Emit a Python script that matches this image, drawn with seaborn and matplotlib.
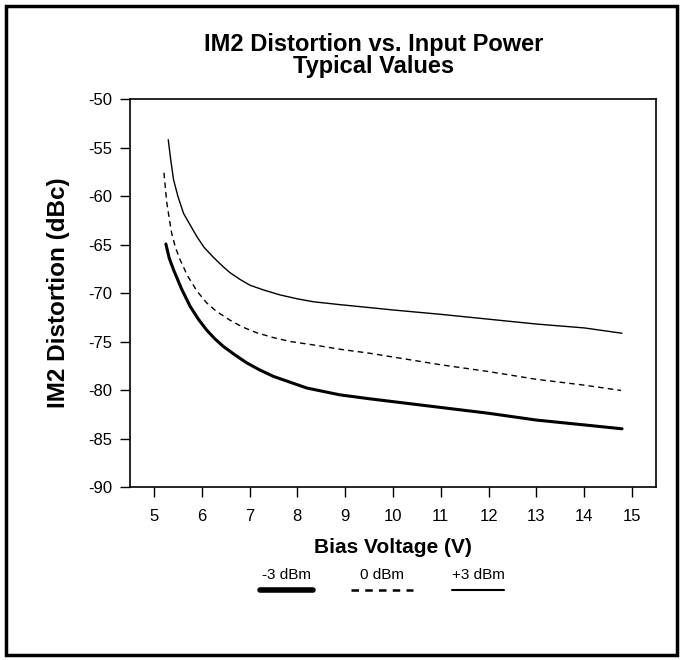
import matplotlib
matplotlib.use("Agg")
import matplotlib.pyplot as plt
import pandas as pd
import seaborn as sns
from matplotlib.lines import Line2D
from matplotlib.patches import Rectangle

# bias voltage (V) and IM2 distortion (dBc)
bias_m3 = [5.25, 5.32, 5.41, 5.58, 5.76, 5.93, 6.10, 6.27, 6.45, 6.7, 6.94, 7.2,
           7.5, 7.85, 8.2, 8.89, 9.5, 10.0, 11.0, 12.0, 13.0, 14.0, 14.79]
im2_m3 = [-64.95, -66.4, -67.6, -69.6, -71.4, -72.7, -73.8, -74.7, -75.5, -76.4,
          -77.2, -77.9, -78.6, -79.2, -79.8, -80.5, -80.9, -81.2, -81.8, -82.4,
          -83.1, -83.6, -84.0]

bias_0 = [5.21, 5.24, 5.27, 5.32, 5.37, 5.45, 5.55, 5.70, 5.90, 6.10, 6.31, 6.59,
          6.85, 7.15, 7.5, 7.85, 8.4, 8.89, 9.5, 10.0, 11.0, 12.0, 13.0, 14.0, 14.77]
im2_0 = [-57.6, -59.2, -60.7, -62.3, -63.8, -65.3, -66.6, -68.2, -69.8, -71.0,
         -71.9, -72.8, -73.5, -74.1, -74.6, -75.0, -75.4, -75.8, -76.2, -76.6,
         -77.4, -78.1, -78.9, -79.5, -80.05]

bias_p3 = [5.30, 5.35, 5.41, 5.50, 5.62, 5.76, 5.90, 6.05, 6.24, 6.45, 6.59, 6.80,
           7.01, 7.3, 7.64, 8.0, 8.33, 8.89, 9.5, 10.0, 11.0, 12.0, 13.0, 14.0, 14.79]
im2_p3 = [-54.2, -56.2, -58.3, -60.0, -61.8, -63.0, -64.2, -65.3, -66.3, -67.3,
          -67.9, -68.6, -69.2, -69.7, -70.2, -70.6, -70.9, -71.2, -71.5, -71.75,
          -72.2, -72.7, -73.2, -73.6, -74.15]

series_labels = ["-3 dBm", "0 dBm", "+3 dBm"]
x_ticks = list(range(5, 16))
y_ticks = list(range(-90, -49, 5))

sns.set_style("ticks")
plt.rcParams["font.family"] = ["Liberation Sans", "DejaVu Sans"]
plt.rcParams["axes.unicode_minus"] = False
plt.rcParams["text.color"] = "black"
plt.rcParams["axes.labelcolor"] = "black"

fig = plt.figure(figsize=(6.82, 6.60), dpi=100)
ax = fig.add_axes([130 / 682, 1 - 487 / 660, 526 / 682, 388 / 660])

styles = [
    dict(linewidth=2.2, linestyle="-"),
    dict(linewidth=1.0, linestyle=(0, (4, 3))),
    dict(linewidth=1.0, linestyle="-"),
]
data = [(bias_m3, im2_m3), (bias_0, im2_0), (bias_p3, im2_p3)]
for (bx, by), st in zip(data, styles):
    df = pd.DataFrame({"bias": bx, "im2": by})
    sns.lineplot(data=df, x="bias", y="im2", color="black", sort=False,
                 ax=ax, **st)

ax.set_xlim(4.5, 15.5)
ax.set_ylim(-90, -50)
ax.set_xticks(x_ticks)
ax.set_yticks(y_ticks)
ax.tick_params(direction="out", length=7, width=1, labelsize=12, colors="black")
ax.tick_params(axis="x", pad=9)
ax.tick_params(axis="y", pad=6)
for sp in ax.spines.values():
    sp.set_visible(True)
    sp.set_color("black")
    sp.set_linewidth(1.2)

ax.set_xlabel("Bias Voltage (V)", fontsize=15, fontweight="bold", labelpad=10)
ax.set_ylabel("IM2 Distortion (dBc)", fontsize=17.5, fontweight="bold", labelpad=13)
fig.text(0.548, 1 - 55.5 / 660, "IM2 Distortion vs. Input Power\nTypical Values",
         ha="center", va="center", fontsize=17, fontweight="bold", linespacing=0.95)

# legend: label above a line sample
leg_x = [(260, 313), (351, 413), (452, 504)]
leg_w = [4.0, 1.8, 1.5]
leg_ls = ["-", (0, (3, 2.5)), "-"]
for lab, (x0, x1), lw, ls in zip(series_labels, leg_x, leg_w, leg_ls):
    fig.text((x0 + x1) / 2 / 682, 1 - 575 / 660, lab, ha="center", va="center",
             fontsize=11)
    fig.add_artist(Line2D([x0 / 682, x1 / 682], [1 - 590 / 660, 1 - 590 / 660],
                          color="black", linewidth=lw, linestyle=ls,
                          transform=fig.transFigure))

fig.add_artist(Rectangle((6 / 682, 5 / 660), 671 / 682, 649 / 660, fill=False,
                         edgecolor="black", linewidth=2.5,
                         transform=fig.transFigure))

fig.savefig("out.png", dpi=100)
